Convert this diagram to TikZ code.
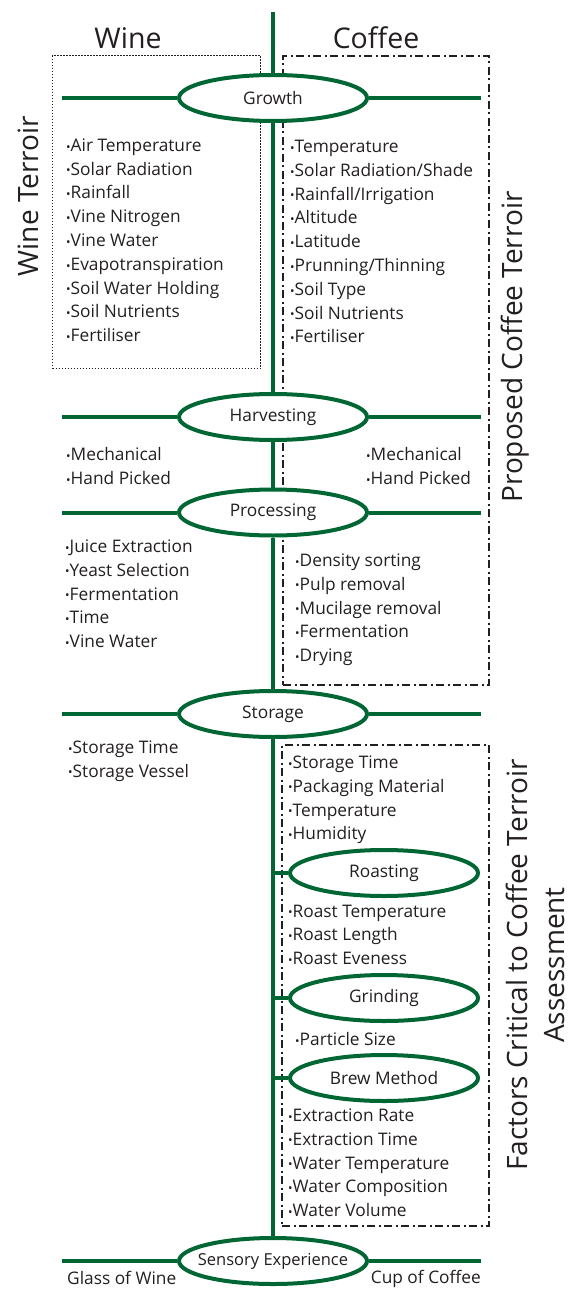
\documentclass[tikz,border=0pt]{standalone}
\usepackage{fontspec}
\setmainfont{Open Sans}
\usetikzlibrary{shapes.geometric}
\definecolor{stemgreen}{RGB}{0,102,51}
\definecolor{inkgrey}{RGB}{35,31,32}
\newcommand{\bul}{\raisebox{0.3pt}{\fontsize{12}{12}\selectfont\textbullet}}

\begin{document}
\begin{tikzpicture}[x=1pt, y=-1pt, text=inkgrey,
	stage/.style={draw=stemgreen, line width=4pt, ellipse, fill=white, minimum width=188pt, minimum height=46pt, inner sep=0pt, font=\fontsize{17.3}{17.3}\selectfont},
	branch/.style={draw=stemgreen, line width=4pt},
	items/.style={anchor=north west, align=left, inner sep=0pt, font=\fontsize{17.3}{23.8}\selectfont},
	winebox/.style={draw=inkgrey, line width=1.3pt, dash pattern=on 1.3pt off 1.7pt},
	coffeebox/.style={draw=inkgrey, line width=2pt, dash pattern=on 8pt off 3.5pt on 2pt off 3.5pt},
	side/.style={rotate=90, align=center, font=\fontsize{28}{37}\selectfont}]
		\useasboundingbox (0,0) rectangle (569,1289);
		\node[font=\fontsize{28.5}{28.5}\selectfont] (winehead) at (128,38) {Wine};
		\node[font=\fontsize{28.5}{28.5}\selectfont] (coffeehead) at (376,38) {Coffee};
		\node[winebox, minimum width=208pt, minimum height=313pt, anchor=north west] (winegrowbox) at (52,55) {};
		\node[coffeebox, minimum width=206pt, minimum height=629pt, anchor=north west] (coffeegrowbox) at (282,55) {};
		\node[coffeebox, minimum width=207pt, minimum height=481pt, anchor=north west] (coffeecritbox) at (281,744) {};
		\node[side] (wineterroir) at (28,196) {Wine Terroir};
		\node[side] (coffeeterroir) at (515,347) {Proposed Coffee Terroir};
		\node[side] (critical) at (535,965) {Factors Critical to Coffee Terroir\\Assessment};
		\coordinate (stemtop) at (273,12);
		\coordinate (growthL) at (62,98);
		\coordinate (growthR) at (481,98);
		\coordinate (harvestL) at (62,417);
		\coordinate (harvestR) at (481,417);
		\coordinate (processL) at (62,512.5);
		\coordinate (processR) at (481,512.5);
		\coordinate (storageL) at (62,714);
		\coordinate (storageR) at (481,714);
		\coordinate (sensoryL) at (62,1261);
		\coordinate (sensoryR) at (481,1261);
		\node[stage] (growth) at (273,98) {Growth};
		\node[stage] (harvest) at (273,417) {Harvesting};
		\node[stage] (process) at (273,512.5) {Processing};
		\node[stage] (storage) at (273,714) {Storage};
		\node[stage] (roast) at (384,873) {Roasting};
		\node[stage] (grind) at (384,998) {Grinding};
		\node[stage] (brew) at (384,1078) {Brew Method};
		\node[stage, inner xsep=-13pt, font=\fontsize{16.5}{16.5}\selectfont] (sensory) at (273,1261) {Sensory Experience};
		\draw[branch] (stemtop) -- (growth) -- (harvest) -- (process) -- (storage) -- (sensory);
		\draw[branch] (growthL) -- (growth) -- (growthR);
		\draw[branch] (harvestL) -- (harvest) -- (harvestR);
		\draw[branch] (processL) -- (process) -- (processR);
		\draw[branch] (storageL) -- (storage) -- (storageR);
		\draw[branch] (sensoryL) -- (sensory) -- (sensoryR);
		\draw[branch] (roast.west) -- (roast.west -| storage.center);
		\draw[branch] (grind.west) -- (grind.west -| storage.center);
		\draw[branch] (brew.west) -- (brew.west -| storage.center);
		\node[items] (winegrow) at (66,138.5) {\bul Air Temperature\\\bul Solar Radiation\\\bul Rainfall\\\bul Vine Nitrogen\\\bul Vine Water\\\bul Evapotranspiration\\\bul Soil Water Holding\\\bul Soil Nutrients\\\bul Fertiliser};
		\node[items] (coffeegrow) at (290,140) {\bul Temperature\\\bul Solar Radiation/Shade\\\bul Rainfall/Irrigation\\\bul Altitude\\\bul Latitude\\\bul Prunning/Thinning\\\bul Soil Type\\\bul Soil Nutrients\\\bul Fertiliser};
		\node[items] (wineharvest) at (66,447.5) {\bul Mechanical\\\bul Hand Picked};
		\node[items] (coffeeharvest) at (366,447.5) {\bul Mechanical\\\bul Hand Picked};
		\node[items] (wineprocess) at (65,539.5) {\bul Juice Extraction\\\bul Yeast Selection\\\bul Fermentation\\\bul Time\\\bul Vine Water};
		\node[items] (coffeeprocess) at (295,553.5) {\bul Density sorting\\\bul Pulp removal\\\bul Mucilage removal\\\bul Fermentation\\\bul Drying};
		\node[items] (winestorage) at (68,740.5) {\bul Storage Time\\\bul Storage Vessel};
		\node[items] (coffeestorage) at (288,755.5) {\bul Storage Time\\\bul Packaging Material\\\bul Temperature\\\bul Humidity};
		\node[items] (coffeeroast) at (288,904.5) {\bul Roast Temperature\\\bul Roast Length\\\bul Roast Eveness};
		\node[items] (coffeegrind) at (295,1032.5) {\bul Particle Size};
		\node[items] (coffeebrew) at (288,1108.5) {\bul Extraction Rate\\\bul Extraction Time\\\bul Water Temperature\\\bul Water Composition\\\bul Water Volume};
		\node[items, anchor=west] (wineglass) at (67,1278) {Glass of Wine};
		\node[items, anchor=east] (coffeecup) at (481,1279) {Cup of Coffee};
	\end{tikzpicture}
\end{document}
